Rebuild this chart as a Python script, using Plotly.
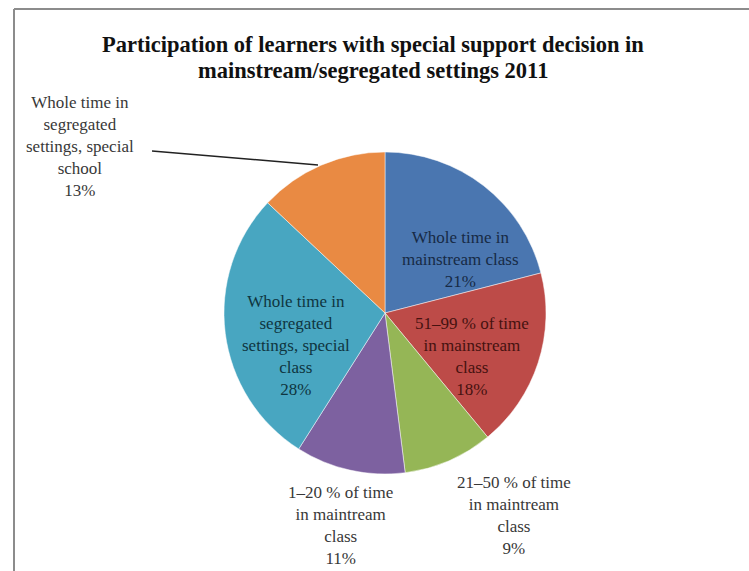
import plotly.graph_objects as go

# Share of learners with a special support decision, by setting (2011)
categories = [
    "Whole time in<br>mainstream class",
    "51–99 % of time<br>in mainstream<br>class",
    "21–50 % of time<br>in maintream<br>class",
    "1–20 % of time<br>in maintream<br>class",
    "Whole time in<br>segregated<br>settings, special<br>class",
    "Whole time in<br>segregated<br>settings, special<br>school",
]
shares = [21, 18, 9, 11, 28, 13]
colors = ["#4A76B0", "#BD4B48", "#95B656", "#7D61A0", "#48A6C1", "#E98A43"]
label_colors = ["#172A45", "#461210", "#383838", "#383838", "#0F3540", "#383838"]

title_lines = [
    "Participation of learners with special support decision in",
    "mainstream/segregated settings 2011",
]

W, H = 749, 571

def px(x):
    return x / W

def py(y):
    return 1 - y / H

# pie placement: centre (385, 313), radius about 161 px
cx, cy, r = 385, 313, 161

fig = go.Figure(go.Pie(
    values=shares,
    labels=[c.replace("<br>", " ") for c in categories],
    sort=False,
    direction="clockwise",
    rotation=0,
    marker=dict(colors=colors, line=dict(color="rgba(255,255,255,0.6)", width=0.8)),
    textinfo="none",
    hoverinfo="label+percent",
    showlegend=False,
    domain=dict(x=[px(cx - r), px(cx + r)], y=[py(cy + r), py(cy - r)]),
))

# label centres in pixels, one per slice
label_pos = [(460, 259), (472, 356), (514, 515), (340, 525), (296, 345), (80, 146)]

annotations = []
for cat, val, col, (lx, ly) in zip(categories, shares, label_colors, label_pos):
    annotations.append(dict(
        x=px(lx), y=py(ly), xref="paper", yref="paper",
        text=f"{cat}<br>{val}%", showarrow=False,
        font=dict(family="Liberation Serif", size=17, color=col),
        align="center", xanchor="center", yanchor="middle",
    ))

for line, ty in zip(title_lines, [45, 71]):
    annotations.append(dict(
        x=px(373), y=py(ty), xref="paper", yref="paper",
        text=f"<b>{line}</b>", showarrow=False,
        xanchor="center", yanchor="middle",
        font=dict(family="Liberation Serif", size=22.5, color="#111111"),
    ))

shapes = [
    # leader line to the special-school slice
    dict(type="line", xref="paper", yref="paper",
         x0=px(152), y0=py(151), x1=px(318), y1=py(165),
         line=dict(color="#222222", width=1.5)),
    # chart frame (top and left edges)
    dict(type="line", xref="paper", yref="paper",
         x0=px(14), y0=py(9), x1=1, y1=py(9),
         line=dict(color="#8C8C8C", width=2)),
    dict(type="line", xref="paper", yref="paper",
         x0=px(14), y0=py(9), x1=px(14), y1=0,
         line=dict(color="#8C8C8C", width=2)),
]

fig.update_layout(
    width=W, height=H,
    margin=dict(l=0, r=0, t=0, b=0),
    paper_bgcolor="white", plot_bgcolor="white",
    annotations=annotations, shapes=shapes,
)

fig.write_html("out.html")
